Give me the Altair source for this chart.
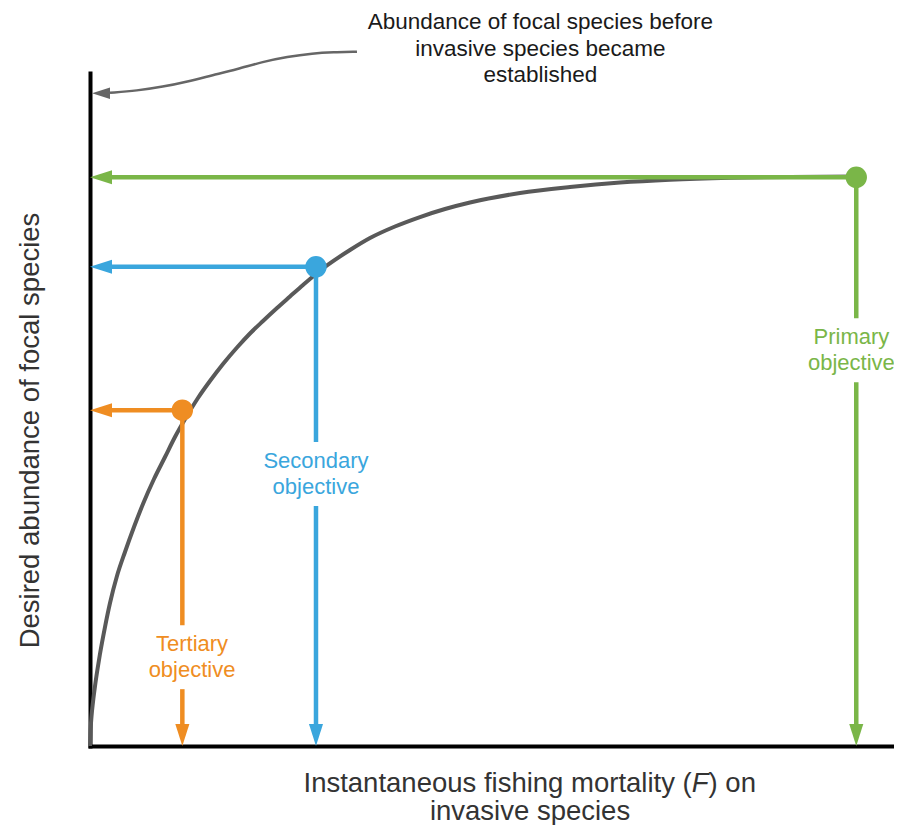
import altair as alt
import pandas as pd

# ---- data (arbitrary units) ----
curve_F = [0, 0.06, 0.19, 0.37, 0.62, 0.93, 1.23, 1.85, 2.47, 3.33, 4.32, 5.43, 6.54,
           7.90, 9.26, 10.49, 11.85, 13.33, 14.81, 16.42, 18.15, 19.75, 21.36, 23.09,
           24.69, 26.30, 27.90, 29.26, 32.10, 34.57, 37.65, 40.74, 43.83, 46.91, 53.09,
           59.26, 65.43, 71.60, 79.01, 86.42, 94.57]
curve_A = [0, 2.08, 4.46, 6.54, 8.92, 11.44, 13.67, 17.68, 21.25, 25.26, 28.83, 32.54, 35.96,
           39.67, 42.94, 45.91, 48.81, 51.71, 54.23, 56.76, 59.21, 61.29, 63.15, 65.08,
           66.79, 68.50, 70.13, 71.40, 73.70, 75.48, 77.19, 78.60, 79.79, 80.76, 82.17,
           83.06, 83.73, 84.15, 84.43, 84.56, 84.62]

names = ["Primary", "Secondary", "Tertiary"]
obj_F = [94.6, 27.9, 11.4]
obj_A = [84.5, 71.2, 49.9]
label_text = ["Primary\nobjective", "Secondary\nobjective", "Tertiary\nobjective"]
label_F = [94.0, 27.9, 12.6]
label_A = [58.8, 40.4, 13.2]
colors = ["#7AB648", "#3AA6DD", "#EF8D22"]

annot_F = [2.47, 5.80, 9.01, 11.98, 15.19, 18.15, 21.36, 24.32, 27.53, 30.0, 32.96]
annot_A = [97.07, 97.37, 97.96, 98.71, 99.70, 100.55, 101.68, 102.42, 102.93, 103.08, 103.17]
annot_tip = [0.25, 97.0]
annot_text = "Abundance of focal species before\ninvasive species became\nestablished"
annot_pos = [55.6, 103.6]

x_title_parts = ["Instantaneous fishing mortality (", "F", ") on"]
x_title_line2 = "invasive species"
y_title = "Desired abundance of focal species"

# ---- layout constants ----
W, H = 804, 673
PX_PER_X = 8.1
X_MAX, Y_MAX = W / PX_PER_X, 100
HEAD = 22
hx = HEAD * X_MAX / W
hy = HEAD * Y_MAX / H
GAP = 32 * Y_MAX / H
FONT = "Liberation Sans"
TITLE_SIZE = 27.5
TITLE_COLOR = "#333333"

xscale = alt.Scale(domain=[0, X_MAX], nice=False, zero=False)
yscale = alt.Scale(domain=[0, Y_MAX], nice=False, zero=False)
cscale = alt.Scale(domain=names, range=colors)

xaxis = alt.Axis(
    title="", ticks=False, labels=False, grid=False,
    domainColor="black", domainWidth=4, domainCap="square",
)
yaxis = alt.Axis(
    title=y_title,
    ticks=False, labels=False, grid=False,
    domainColor="black", domainWidth=4, domainCap="square",
    titleFont=FONT, titleFontSize=TITLE_SIZE, titleFontWeight="normal", titleColor=TITLE_COLOR,
    titleX=-60, titleY=357, titleBaseline="middle", titleAlign="center", titleAngle=270,
)


def X(field="F"):
    return alt.X(field, type="quantitative", scale=xscale, axis=xaxis)


def Y(field="A"):
    return alt.Y(field, type="quantitative", scale=yscale, axis=yaxis)


color = alt.Color("name:N", scale=cscale, legend=None)

curve_df = pd.DataFrame({"F": curve_F, "A": curve_A})
obj_df = pd.DataFrame({"name": names, "F": obj_F, "A": obj_A})
label_df = pd.DataFrame({"name": names, "F": label_F, "A": label_A, "text": label_text})

seg_rows = []
for n, f, a, ly in zip(names, obj_F, obj_A, label_A):
    seg_rows.append({"name": n, "F": hx, "F2": f, "A": a, "A2": a})
    seg_rows.append({"name": n, "F": f, "F2": f, "A": a, "A2": ly + GAP})
    seg_rows.append({"name": n, "F": f, "F2": f, "A": ly - GAP, "A2": hy})
seg_df = pd.DataFrame(seg_rows)

left_df = pd.DataFrame({"name": names, "F": [0] * 3, "A": obj_A})
down_df = pd.DataFrame({"name": names, "F": obj_F, "A": [0] * 3})
annot_df = pd.DataFrame({"F": annot_F, "A": annot_A})
annot_tip_df = pd.DataFrame({"F": [annot_tip[0]], "A": [annot_tip[1]]})
annot_text_df = pd.DataFrame({"F": [annot_pos[0]], "A": [annot_pos[1]], "text": [annot_text]})
one = pd.DataFrame({"k": [0]})

LEFT_ARROW = "M0,0L2,-0.64L2,0.64Z"
DOWN_ARROW = "M0,0L-0.64,-2L0.64,-2Z"

curve = alt.Chart(curve_df).mark_line(
    color="#595959", strokeWidth=4, interpolate="monotone", clip=False
).encode(x=X(), y=Y())

segs = alt.Chart(seg_df).mark_rule(strokeWidth=4.5, clip=False).encode(
    x=X(), x2="F2", y=Y(), y2="A2", color=color
)

left_heads = alt.Chart(left_df).mark_point(
    shape=LEFT_ARROW, size=484, filled=True, opacity=1, strokeWidth=0, clip=False
).encode(x=X(), y=Y(), color=color)

down_heads = alt.Chart(down_df).mark_point(
    shape=DOWN_ARROW, size=484, filled=True, opacity=1, strokeWidth=0, clip=False
).encode(x=X(), y=Y(), color=color)

dots = alt.Chart(obj_df).mark_circle(size=460, opacity=1, clip=False).encode(
    x=X(), y=Y(), color=color
)

labels = alt.Chart(label_df).mark_text(
    font=FONT, fontSize=22, lineBreak="\n", lineHeight=26, dy=-13,
    align="center", baseline="middle", clip=False
).encode(x=X(), y=Y(), text="text:N", color=color)

annot_line = alt.Chart(annot_df).mark_line(
    color="#666666", strokeWidth=2.5, interpolate="basis", clip=False
).encode(x=X(), y=Y())

annot_head = alt.Chart(annot_tip_df).mark_point(
    shape=LEFT_ARROW, size=324, filled=True, opacity=1, strokeWidth=0,
    color="#666666", clip=False
).encode(x=X(), y=Y())

annot_label = alt.Chart(annot_text_df).mark_text(
    font=FONT, fontSize=22.5, lineBreak="\n", lineHeight=26.5, dy=-26.5,
    align="center", baseline="middle", color="#1a1a1a", clip=False
).encode(x=X(), y=Y(), text="text:N")

# x-axis title (two lines, italic F) as text marks placed below the plot area
TX = 440          # centre of the title, px from plot left
L1 = 719          # baseline of line 1, px from plot top
L2 = 747          # baseline of line 2
w1 = 14.097 * TITLE_SIZE
wF = 0.611 * TITLE_SIZE
w3 = 1.723 * TITLE_SIZE
start = TX - (w1 + wF + w3) / 2
tstyle = dict(font=FONT, fontSize=TITLE_SIZE, color=TITLE_COLOR, baseline="alphabetic", clip=False)
xt1 = alt.Chart(one).mark_text(text=x_title_parts[0], align="right", **tstyle).encode(
    x=alt.value(start + w1), y=alt.value(L1))
xtF = alt.Chart(one).mark_text(text=x_title_parts[1], align="center", fontStyle="italic", **tstyle).encode(
    x=alt.value(start + w1 + wF / 2), y=alt.value(L1))
xt3 = alt.Chart(one).mark_text(text=x_title_parts[2], align="left", **tstyle).encode(
    x=alt.value(start + w1 + wF), y=alt.value(L1))
xt4 = alt.Chart(one).mark_text(text=x_title_line2, align="center", **tstyle).encode(
    x=alt.value(TX), y=alt.value(L2))

chart = alt.layer(
    curve, segs, left_heads, down_heads, dots, labels, annot_line, annot_head, annot_label,
    xt1, xtF, xt3, xt4
).properties(
    width=W, height=H,
    padding={"left": 82, "top": 65, "right": 0, "bottom": 79},
    autosize=alt.AutoSizeParams(type="none"),
).configure(font=FONT, background="white").configure_view(stroke=None)

chart.save("out.html", embed_options={"renderer": "svg", "actions": False})
